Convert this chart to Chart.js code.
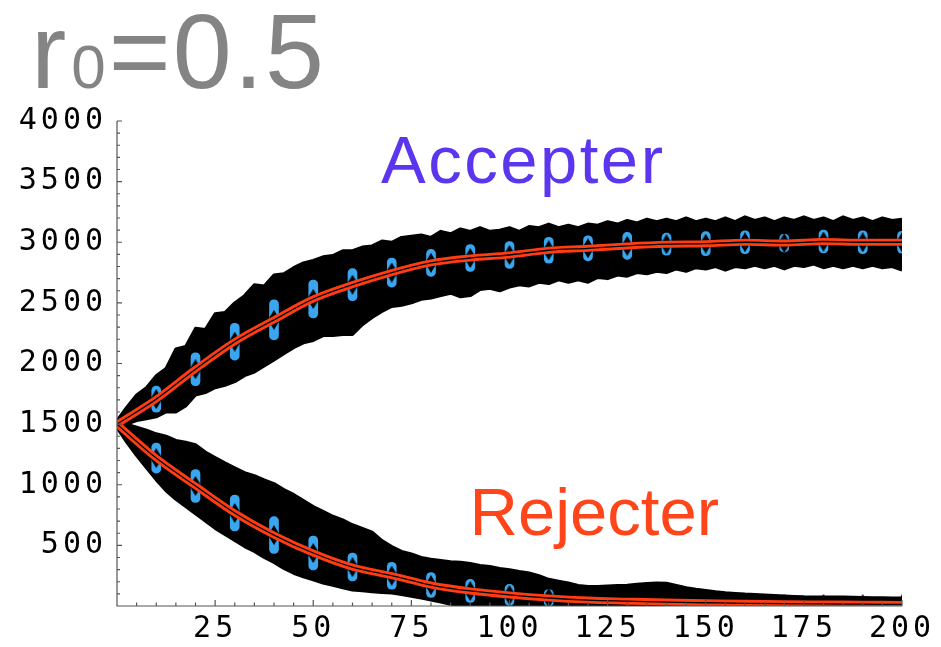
<!DOCTYPE html>
<html lang="en">
<head>
    <meta charset="UTF-8">
    <title>r0=0.5</title>
    <script src="https://cdn.jsdelivr.net/npm/chart.js"></script>
    <style>
        body { margin: 0; background: #fff; }
    </style>
</head>
<body>
    <canvas id="grafica" width="941" height="647"></canvas>

    <script>
        // sample times of the mean / error bars
        const steps = [0, 10, 20, 30, 40, 50, 60, 70, 80, 90, 100, 110, 120, 130, 140, 150, 160, 170, 180, 190, 200];
        const accepterMean = [1500, 1706, 1953, 2180, 2360, 2532, 2650, 2750, 2830, 2870, 2895, 2934, 2950, 2970, 2984, 2988, 3000, 2993, 3006, 3000, 3000];
        const rejecterMean = [1500, 1220, 990, 767, 585, 437, 321, 250, 173, 124, 91, 66, 49, 40, 32, 27, 22, 19, 17, 15, 13];
        // standard deviation at steps 10..200
        const accepterSd = [107, 136, 152, 165, 157, 132, 120, 111, 111, 111, 107, 103, 111, 91, 99, 95, 74, 95, 95, 91];
        const rejecterSd = [124, 136, 148, 152, 140, 115, 111, 103, 95, 87, 70, 41, 25, 20, 16, 14, 12, 10, 9, 8];

        // envelope of all the simulated runs, every 2.5 steps
        const envX = [
            0, 2.5, 5, 7.5, 10, 12.5, 15, 17.5, 20, 22.5,
            25, 27.5, 30, 32.5, 35, 37.5, 40, 42.5, 45, 47.5,
            50, 52.5, 55, 57.5, 60, 62.5, 65, 67.5, 70, 72.5,
            75, 77.5, 80, 82.5, 85, 87.5, 90, 92.5, 95, 97.5,
            100, 102.5, 105, 107.5, 110, 112.5, 115, 117.5, 120, 122.5,
            125, 127.5, 130, 132.5, 135, 137.5, 140, 142.5, 145, 147.5,
            150, 152.5, 155, 157.5, 160, 162.5, 165, 167.5, 170, 172.5,
            175, 177.5, 180, 182.5, 185, 187.5, 190, 192.5, 195, 197.5,
            200];
        const accepterTop = [
            1530, 1640, 1740, 1800, 1900, 1960, 2120, 2140, 2290, 2280,
            2410, 2420, 2500, 2560, 2650, 2640, 2730, 2740, 2790, 2830,
            2850, 2880, 2890, 2930, 2930, 2960, 2970, 3010, 3000, 3040,
            3050, 3060, 3040, 3090, 3070, 3110, 3090, 3120, 3090, 3100,
            3120, 3090, 3130, 3120, 3150, 3120, 3140, 3120, 3150, 3140,
            3170, 3150, 3180, 3160, 3190, 3170, 3190, 3170, 3200, 3170,
            3190, 3170, 3200, 3170, 3210, 3180, 3200, 3170, 3200, 3180,
            3210, 3180, 3200, 3170, 3210, 3180, 3200, 3170, 3200, 3180,
            3190];
        const accepterBottom = [
            1470, 1500, 1530, 1545, 1560, 1600, 1600, 1650, 1740, 1760,
            1800, 1820, 1850, 1900, 1930, 1980, 2030, 2080, 2130, 2170,
            2190, 2230, 2230, 2240, 2240, 2320, 2380, 2430, 2470, 2480,
            2500, 2530, 2540, 2560, 2580, 2550, 2560, 2610, 2620, 2600,
            2630, 2650, 2640, 2670, 2660, 2690, 2670, 2690, 2670, 2710,
            2700, 2730, 2720, 2750, 2740, 2760, 2750, 2780, 2760, 2790,
            2780, 2800, 2770, 2800, 2790, 2810, 2790, 2810, 2780, 2810,
            2800, 2820, 2790, 2810, 2790, 2810, 2790, 2810, 2790, 2800,
            2770];
        const rejecterTop = [
            1530, 1500, 1475, 1450, 1420, 1400, 1365, 1350, 1330, 1270,
            1225, 1180, 1140, 1100, 1075, 1040, 1010, 960, 920, 870,
            820, 780, 740, 710, 670, 640, 610, 540, 490, 450,
            430, 400, 385, 375, 365, 360, 350, 335, 325, 310,
            300, 285, 272, 250, 220, 205, 190, 170, 160, 160,
            165, 170, 172, 180, 185, 190, 188, 170, 150, 138,
            128, 118, 110, 104, 98, 94, 90, 86, 82, 79,
            76, 75, 74, 74, 74, 72, 70, 69, 68, 67,
            66];
        const rejecterBottom = [
            1470, 1350, 1240, 1140, 1040, 950, 880, 820, 760, 700,
            640, 590, 540, 490, 450, 400, 360, 310, 270, 240,
            215, 190, 170, 150, 132, 125, 118, 112, 107, 95,
            80, 65, 50, 32, 15, 5, 0, 0, 0, 0,
            0, 0, 0, 0, 0, 0, 0, 0, 0, 0,
            0, 0, 0, 0, 0, 0, 0, 0, 0, 0,
            0, 0, 0, 0, 0, 0, 0, 0, 0, 0,
            0, 0, 0, 0, 0, 0, 0, 0, 0, 0,
            0];

        const xTicks = [25, 50, 75, 100, 125, 150, 175, 200];
        const yTicks = [500, 1000, 1500, 2000, 2500, 3000, 3500, 4000];

        const etiquetas = [
            { text: 'Accepter', x: 103.5, y: 3486, color: '#5b36ee', spacing: 2.5 },
            { text: 'Rejecter', x: 121.6, y: 585, color: '#ff4519', spacing: 0 }
        ];

        const pts = (xs, ys) => xs.map((x, i) => ({ x: x, y: ys[i] }));
        const bars = (mean, sd) => steps.slice(1).map((x, i) => ({ x: x, y: [mean[i + 1] - sd[i], mean[i + 1] + sd[i]] }));

        // tall black diamond used as the mean marker
        const rombo = document.createElement('canvas');
        rombo.width = 12;
        rombo.height = 20;
        const rc = rombo.getContext('2d');
        rc.fillStyle = '#000';
        rc.beginPath();
        rc.moveTo(6, 0);
        rc.lineTo(12, 10);
        rc.lineTo(6, 20);
        rc.lineTo(0, 10);
        rc.closePath();
        rc.fill();

        const envelope = (data, fill) => ({
            type: 'line', data: data, fill: fill, order: 6,
            borderColor: '#000', backgroundColor: '#000', borderWidth: 3,
            borderJoinStyle: 'round', pointRadius: 0, tension: 0
        });
        const errorBars = data => ({
            type: 'bar', data: data, order: 4, grouped: false,
            backgroundColor: '#3aa6ef', barThickness: 9, borderRadius: 5, borderSkipped: false
        });
        const diamonds = data => ({
            type: 'line', data: data, order: 3, showLine: false,
            pointStyle: rombo, pointRadius: 10
        });
        const meanLine = (data, color, width, order) => ({
            type: 'line', data: data, order: order, borderColor: color, borderWidth: width,
            pointRadius: 0, fill: false, cubicInterpolationMode: 'monotone'
        });

        const accMean = pts(steps, accepterMean);
        const rejMean = pts(steps, rejecterMean);

        // inward ticks, axis lines, title and labels
        const decoracion = {
            id: 'decoracion',
            beforeDraw(chart) {
                chart.ctx.letterSpacing = '4px';
            },
            afterDraw(chart) {
                const ctx = chart.ctx;
                const { x, y } = chart.scales;
                const area = chart.chartArea;
                ctx.save();
                ctx.letterSpacing = '0px';
                ctx.strokeStyle = '#555';
                ctx.lineWidth = 1.2;
                ctx.beginPath();
                ctx.moveTo(area.left, area.top);
                ctx.lineTo(area.left, area.bottom);
                ctx.lineTo(area.right, area.bottom);
                for (let v = 5; v <= 200; v += 5) {
                    const px = x.getPixelForValue(v);
                    ctx.moveTo(px, area.bottom);
                    ctx.lineTo(px, area.bottom - (v % 25 === 0 ? 6 : 3.5));
                }
                for (let v = 100; v <= 4000; v += 100) {
                    const py = y.getPixelForValue(v);
                    ctx.moveTo(area.left, py);
                    ctx.lineTo(area.left + (v % 500 === 0 ? 5 : 3), py);
                }
                ctx.stroke();

                // r₀=0.5
                ctx.fillStyle = '#848484';
                ctx.textBaseline = 'alphabetic';
                ctx.textAlign = 'left';
                let cx = 31;
                ctx.font = '106px "Liberation Sans", Arial, sans-serif';
                ctx.letterSpacing = '2px';
                ctx.fillText('r', cx, 88);
                cx += ctx.measureText('r').width + 3;
                ctx.font = '62px "Liberation Sans", Arial, sans-serif';
                ctx.fillText('0', cx, 88);
                cx += ctx.measureText('0').width + 1;
                ctx.font = '106px "Liberation Sans", Arial, sans-serif';
                ctx.fillText('=0.5', cx, 88);

                ctx.font = '67px "Liberation Sans", Arial, sans-serif';
                ctx.textAlign = 'center';
                etiquetas.forEach(e => {
                    ctx.fillStyle = e.color;
                    ctx.letterSpacing = e.spacing + 'px';
                    ctx.fillText(e.text, x.getPixelForValue(e.x), y.getPixelForValue(e.y));
                });
                ctx.restore();
            }
        };

        const tickFont = { family: '"DejaVu Sans Mono", monospace', size: 30 };

        const ctx = document.getElementById('grafica').getContext('2d');
        const grafica = new Chart(ctx, {
            type: 'line',
            data: {
                datasets: [
                    envelope(pts(envX, accepterTop), '+1'),
                    envelope(pts(envX, accepterBottom), false),
                    envelope(pts(envX, rejecterTop), '+1'),
                    envelope(pts(envX, rejecterBottom), false),
                    errorBars(bars(accepterMean, accepterSd)),
                    errorBars(bars(rejecterMean, rejecterSd)),
                    diamonds(accMean.slice(1)),
                    diamonds(rejMean.slice(1)),
                    meanLine(accMean, '#ff3c12', 7, 2),
                    meanLine(rejMean, '#ff3c12', 7, 2),
                    meanLine(accMean, '#000', 1.3, 1),
                    meanLine(rejMean, '#000', 1.3, 1)
                ]
            },
            options: {
                responsive: false,
                devicePixelRatio: 1,
                animation: false,
                layout: { padding: { top: 121, right: 39, left: 0, bottom: 0 } },
                plugins: { legend: { display: false }, tooltip: { enabled: false } },
                scales: {
                    x: {
                        type: 'linear', min: 0, max: 200, offset: false,
                        grid: { display: false, drawTicks: false },
                        border: { display: false },
                        afterBuildTicks: s => { s.ticks = xTicks.map(v => ({ value: v })); },
                        afterFit: s => { s.height = 41; s.paddingLeft = 0; s.paddingRight = 0; },
                        ticks: { color: '#000', font: tickFont, padding: 5, maxRotation: 0, autoSkip: false,
                                 callback: v => String(v) }
                    },
                    y: {
                        min: 0, max: 4000,
                        grid: { display: false, drawTicks: false },
                        border: { display: false },
                        afterBuildTicks: s => { s.ticks = yTicks.map(v => ({ value: v })); },
                        afterFit: s => { s.width = 117; s.paddingTop = 0; s.paddingBottom = 0; },
                        ticks: { color: '#000', font: tickFont, padding: 10, autoSkip: false,
                                 callback: v => String(v) }
                    }
                }
            },
            plugins: [decoracion]
        });
    </script>
</body>
</html>
